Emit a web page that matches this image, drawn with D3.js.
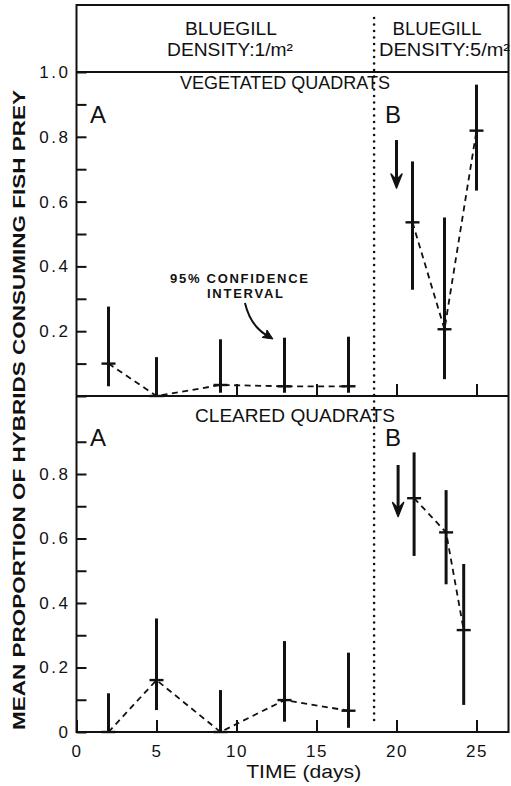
<!DOCTYPE html>
<html>
<head>
<meta charset="utf-8">
<script src="https://cdn.jsdelivr.net/npm/d3@7"></script>
<style>
  body { margin: 0; background: #fff; }
  svg { display: block; }
  text { font-family: "Liberation Sans", Arial, sans-serif; fill: #111; }
</style>
</head>
<body>
<div id="chart"></div>
<script>
/*
    DATA
*/
let daysA = [2, 5, 9, 13, 17];

// vegetated quadrats
let vegMeanA = [0.10, 0.0, 0.034, 0.03, 0.03];
let vegLowA = [0.03, 0.0, 0.01, 0.01, 0.01];
let vegHighA = [0.276, 0.12, 0.175, 0.18, 0.183];
let vegDaysB = [21, 23, 25];
let vegMeanB = [0.536, 0.206, 0.819];
let vegLowB = [0.328, 0.052, 0.634];
let vegHighB = [0.724, 0.551, 0.961];

// cleared quadrats
let clrMeanA = [0.0, 0.161, 0.0, 0.099, 0.066];
let clrLowA = [0.0, 0.068, 0.0, 0.032, 0.013];
let clrHighA = [0.12, 0.352, 0.13, 0.282, 0.246];
let clrDaysB = [21.1, 23.1, 24.2];
let clrMeanB = [0.725, 0.619, 0.316];
let clrLowB = [0.546, 0.458, 0.084];
let clrHighB = [0.867, 0.75, 0.521];

let densityChangeDay = 18.6;
let xTickValues = [0, 5, 10, 15, 20, 25];
let xTickLabels = ["0", "5", "10", "15", "20", "25"];
let yTickValues = [0, 0.1, 0.2, 0.3, 0.4, 0.5, 0.6, 0.7, 0.8, 0.9, 1.0];
let yTickLabelsVeg = ["", "", "0.2", "", "0.4", "", "0.6", "", "0.8", "", "1.0"];
let yTickLabelsClr = ["0", "", "0.2", "", "0.4", "", "0.6", "", "0.8", "", ""];

/*
    LAYOUT
*/
let W = 511, H = 786;
let FRAME = { left: 76.5, right: 508.5, top: 5 };

let svg = d3.select("#chart").append("svg")
    .attr("width", W)
    .attr("height", H);

let x = d3.scaleLinear().domain([0, 27]).range([FRAME.left, FRAME.right]);
let yVeg = d3.scaleLinear().domain([0, 1]).range([396, 72]);
let yClr = d3.scaleLinear().domain([0, 1]).range([732, 409.5]);

/*
    FRAME
*/
let frame = svg.append("g").attr("stroke", "#111").attr("stroke-width", 2).attr("fill", "none");
frame.append("path")
    .attr("d", `M${FRAME.left},${FRAME.top}H${FRAME.right}V${yClr(0)}H${FRAME.left}Z`);
frame.append("line") // 1.0 line under the header
    .attr("x1", FRAME.left).attr("x2", FRAME.right)
    .attr("y1", yVeg(1)).attr("y2", yVeg(1));
frame.append("line") // divider between panels
    .attr("x1", FRAME.left).attr("x2", FRAME.right)
    .attr("y1", yVeg(0)).attr("y2", yVeg(0));

// dotted line where bluegill density changes
svg.append("line")
    .attr("x1", x(densityChangeDay)).attr("x2", x(densityChangeDay))
    .attr("y1", 18).attr("y2", 722)
    .attr("stroke", "#111")
    .attr("stroke-width", 2.6)
    .attr("stroke-linecap", "round")
    .attr("stroke-dasharray", "0,6.5");

/*
    AXES
*/
function styleAxis(g) {
    g.select(".domain").remove();
    g.selectAll(".tick line").attr("stroke", "#111").attr("stroke-width", 2);
    g.selectAll(".tick text").attr("font-size", 17).attr("fill", "#111")
        .style("font-family", "'Liberation Sans', Arial, sans-serif");
}

function yAxis(scale, labels) {
    svg.append("g")
        .attr("transform", `translate(${FRAME.left},0)`)
        .call(d3.axisLeft(scale)
            .tickValues(yTickValues)
            .tickSizeInner(-10)
            .tickSizeOuter(0)
            .tickPadding(6)
            .tickFormat((d, i) => labels[i]))
        .call(styleAxis)
        .call(g => g.selectAll(".tick text").attr("letter-spacing", 2.5))
        .call(g => g.selectAll(".tick").filter(d => d > 0.99 && scale === yClr).remove());
}
yAxis(yVeg, yTickLabelsVeg);
yAxis(yClr, yTickLabelsClr);

svg.append("g")
    .attr("transform", `translate(0,${yVeg(0)})`)
    .call(d3.axisBottom(x).tickValues(xTickValues.slice(1)).tickSizeInner(-12).tickSizeOuter(0).tickFormat(""))
    .call(styleAxis);

svg.append("g")
    .attr("transform", `translate(0,${yClr(0)})`)
    .call(d3.axisBottom(x).tickValues(xTickValues).tickSizeInner(-12).tickSizeOuter(0).tickPadding(13)
        .tickFormat((d, i) => xTickLabels[i]))
    .call(styleAxis)
    .call(g => g.selectAll(".tick text").attr("font-size", 17).attr("letter-spacing", 1.5));

svg.append("text")
    .attr("x", x(14.2)).attr("y", 778)
    .attr("text-anchor", "middle")
    .attr("font-size", 18)
    .attr("textLength", 115)
    .attr("lengthAdjust", "spacingAndGlyphs")
    .text("TIME (days)");

svg.append("text")
    .attr("transform", "translate(25,410) rotate(-90)")
    .attr("text-anchor", "middle")
    .attr("font-size", 17)
    .attr("font-weight", "bold")
    .attr("textLength", 640)
    .attr("lengthAdjust", "spacingAndGlyphs")
    .text("MEAN PROPORTION OF HYBRIDS CONSUMING FISH PREY");

/*
    HEADER TEXT
*/
function label(tx, ty, str, size, len, anchor) {
    return svg.append("text")
        .attr("x", tx).attr("y", ty)
        .attr("text-anchor", anchor || "middle")
        .attr("font-size", size)
        .attr("textLength", len)
        .attr("lengthAdjust", "spacingAndGlyphs")
        .text(str);
}
label(231, 35, "BLUEGILL", 18, 92);
label(230, 56, "DENSITY:1/m²", 18, 126);
label(437, 35, "BLUEGILL", 18, 89);
label(379, 56, "DENSITY:5/m²", 18, 131, "start");

label(285, 89, "VEGETATED QUADRATS", 19, 210);
label(295, 422, "CLEARED QUADRATS", 19, 200);

[123, 446].forEach(yb => {
    svg.append("text").attr("x", 90).attr("y", yb).attr("font-size", 24).text("A");
    svg.append("text").attr("x", 385).attr("y", yb).attr("font-size", 24).text("B");
});

/*
    SERIES
*/
function drawSeries(y, days, mean, low, high) {
    let g = svg.append("g");
    let pts = days.map((d, i) => ({ day: d, mean: mean[i], low: low[i], high: high[i] }));

    g.append("path")
        .attr("d", d3.line().x(d => x(d.day)).y(d => y(d.mean))(pts))
        .attr("fill", "none")
        .attr("stroke", "#111")
        .attr("stroke-width", 1.8)
        .attr("stroke-dasharray", "6,4.5");

    g.selectAll(".ci").data(pts).enter().append("line")
        .attr("x1", d => x(d.day)).attr("x2", d => x(d.day))
        .attr("y1", d => y(d.low)).attr("y2", d => y(d.high))
        .attr("stroke", "#111")
        .attr("stroke-width", 3);

    g.selectAll(".mean").data(pts).enter().append("line")
        .attr("x1", d => x(d.day) - 7).attr("x2", d => x(d.day) + 7)
        .attr("y1", d => y(d.mean)).attr("y2", d => y(d.mean))
        .attr("stroke", "#111")
        .attr("stroke-width", 2.4);
}

drawSeries(yVeg, daysA, vegMeanA, vegLowA, vegHighA);
drawSeries(yVeg, vegDaysB, vegMeanB, vegLowB, vegHighB);
drawSeries(yClr, daysA, clrMeanA, clrLowA, clrHighA);
drawSeries(yClr, clrDaysB, clrMeanB, clrLowB, clrHighB);

/*
    ARROWS
*/
function downArrow(y, day, from, to) {
    let ax = x(day), y1 = y(from), y2 = y(to);
    svg.append("line")
        .attr("x1", ax).attr("x2", ax).attr("y1", y1).attr("y2", y2 - 6)
        .attr("stroke", "#111").attr("stroke-width", 3);
    svg.append("path")
        .attr("d", `M${ax - 5.5},${y2 - 14}L${ax},${y2}L${ax + 5.5},${y2 - 14}L${ax},${y2 - 8}Z`)
        .attr("fill", "#111").attr("stroke", "#111").attr("stroke-width", 1.5)
        .attr("stroke-linejoin", "round");
}
downArrow(yVeg, 20.0, 0.79, 0.642);
downArrow(yClr, 20.1, 0.828, 0.668);

// confidence interval note
let note = svg.append("g").attr("font-size", 13).attr("font-weight", "bold").attr("text-anchor", "middle");
note.append("text").attr("x", 239).attr("y", 283).attr("textLength", 138).text("95% CONFIDENCE");
note.append("text").attr("x", 245).attr("y", 298).attr("textLength", 76).text("INTERVAL");

let c0 = [x(10.53), yVeg(0.287)], c1 = [x(10.9), yVeg(0.21)], c2 = [x(12.28), yVeg(0.176)];
svg.append("path")
    .attr("d", `M${c0[0]},${c0[1]}Q${c1[0]},${c1[1]} ${c2[0] - 3},${c2[1] - 2}`)
    .attr("fill", "none").attr("stroke", "#111").attr("stroke-width", 2);
svg.append("path")
    .attr("d", `M${c2[0]},${c2[1]}l-11,-1.5l4,-2.5l1,-5z`)
    .attr("fill", "#111").attr("stroke", "#111").attr("stroke-width", 1)
    .attr("stroke-linejoin", "round");
</script>
</body>
</html>
